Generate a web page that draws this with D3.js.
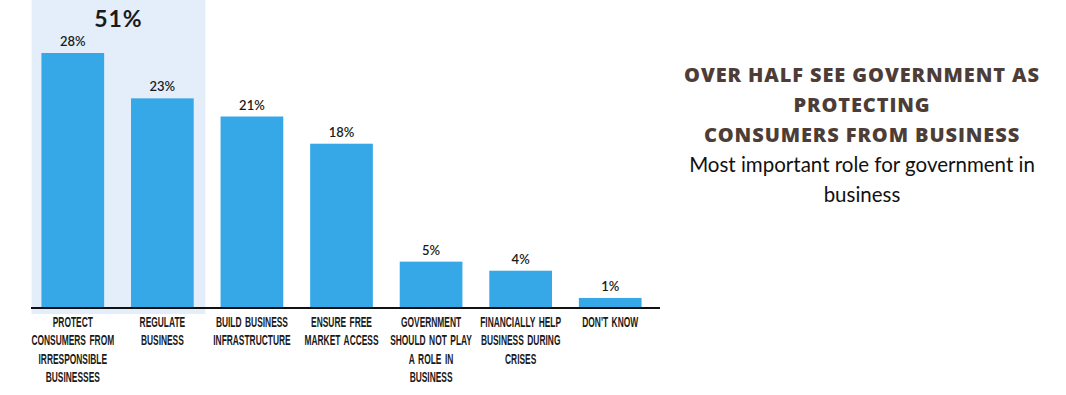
<!DOCTYPE html>
<html>
<head>
<meta charset="utf-8">
<script src="https://cdn.jsdelivr.net/npm/d3@7"></script>
<style>
  body { margin: 0; background: #fff; }
  svg { display: block; }
</style>
</head>
<body>
<script>
// data
const categories = [
  ["PROTECT", "CONSUMERS FROM", "IRRESPONSIBLE", "BUSINESSES"],
  ["REGULATE", "BUSINESS"],
  ["BUILD BUSINESS", "INFRASTRUCTURE"],
  ["ENSURE FREE", "MARKET ACCESS"],
  ["GOVERNMENT", "SHOULD NOT PLAY", "A ROLE IN", "BUSINESS"],
  ["FINANCIALLY HELP", "BUSINESS DURING", "CRISES"],
  ["DON'T KNOW"]
];
const values = [28, 23, 21, 18, 5, 4, 1];
const highlightCount = 2;
const highlightLabel = "51%";
const titleLines = ["OVER HALF SEE GOVERNMENT AS", "PROTECTING", "CONSUMERS FROM BUSINESS"];
const subtitleLines = ["Most important role for government in", "business"];

const W = 1066, H = 395;
const svg = d3.select("body").append("svg").attr("width", W).attr("height", H);

const x = d3.scaleBand()
  .domain(d3.range(values.length))
  .range([28, 655])
  .paddingInner(0.3)
  .paddingOuter(0.15);

const baseY = 307;
const y = d3.scaleLinear().domain([0, 28]).range([baseY, 53]);

// highlighted group background
const hx0 = x(0) - x.step() * 0.11;
const hx1 = x(highlightCount - 1) + x.bandwidth() + x.step() * 0.13;
svg.append("rect")
  .attr("x", hx0)
  .attr("y", 0)
  .attr("width", hx1 - hx0)
  .attr("height", baseY + 7)
  .style("fill", "#e3eefa");

svg.append("text")
  .attr("x", (hx0 + hx1) / 2)
  .attr("y", 27)
  .attr("text-anchor", "middle")
  .style("font-family", "Lato, 'Open Sans', sans-serif")
  .style("font-weight", "bold")
  .style("font-size", "23px")
  .style("letter-spacing", "1px")
  .style("fill", "#1a1a1a")
  .text(highlightLabel);

// bars
svg.selectAll("rect.bar")
  .data(values)
  .enter()
  .append("rect")
  .attr("class", "bar")
  .attr("x", (d, i) => x(i))
  .attr("y", d => y(d))
  .attr("width", x.bandwidth())
  .attr("height", d => baseY - y(d))
  .style("fill", "#36a7e7");

// value labels
svg.selectAll("text.val")
  .data(values)
  .enter()
  .append("text")
  .attr("class", "val")
  .attr("x", (d, i) => x(i) + x.bandwidth() / 2)
  .attr("y", d => y(d) - 7)
  .attr("text-anchor", "middle")
  .style("font-family", "Lato, 'Open Sans', sans-serif")
  .style("font-weight", "600")
  .style("font-size", "13px")
  .style("fill", "#1a1a1a")
  .text(d => d + "%");

// axis line
svg.append("line")
  .attr("x1", 31)
  .attr("x2", 660)
  .attr("y1", baseY + 1)
  .attr("y2", baseY + 1)
  .style("stroke", "#111")
  .style("stroke-width", "2px");

// category labels (condensed by squeezing horizontally)
svg.selectAll("g.cat")
  .data(categories)
  .enter()
  .append("g")
  .attr("class", "cat")
  .attr("transform", (d, i) => "translate(" + (x(i) + x.bandwidth() / 2) + ",327) scale(0.6,1)")
  .append("text")
  .attr("text-anchor", "middle")
  .style("font-family", "'Liberation Sans', Arial, sans-serif")
  .style("font-weight", "bold")
  .style("font-size", "14px")
  .style("word-spacing", "2px")
  .style("fill", "#1a1a1a")
  .each(function(d) {
    d3.select(this).selectAll("tspan")
      .data(d)
      .enter()
      .append("tspan")
      .attr("x", 0)
      .attr("dy", (t, j) => j === 0 ? 0 : 18.3)
      .text(t => t);
  });

// title
svg.selectAll("text.title")
  .data(titleLines)
  .enter()
  .append("text")
  .attr("class", "title")
  .attr("x", 862)
  .attr("y", (d, i) => 82 + i * 30)
  .attr("text-anchor", "middle")
  .style("font-family", "'Open Sans', Lato, sans-serif")
  .style("font-weight", "800")
  .style("font-size", "20px")
  .style("letter-spacing", "0.9px")
  .style("fill", "#4d3d36")
  .text(d => d);

svg.selectAll("text.sub")
  .data(subtitleLines)
  .enter()
  .append("text")
  .attr("class", "sub")
  .attr("x", 862)
  .attr("y", (d, i) => 172 + i * 30)
  .attr("text-anchor", "middle")
  .style("font-family", "Lato, 'Open Sans', sans-serif")
  .style("font-size", "20.5px")
  .style("fill", "#111")
  .text(d => d);
</script>
</body>
</html>
